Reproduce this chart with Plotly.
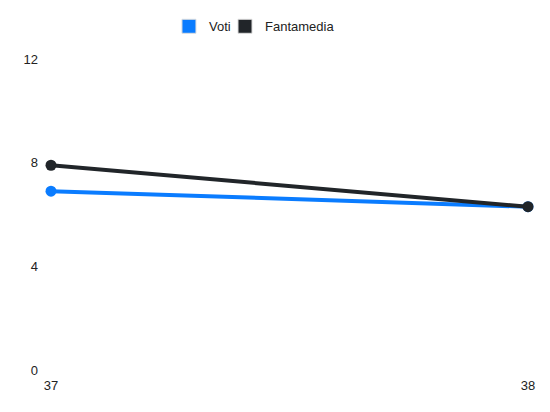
import plotly.graph_objects as go

giornate = [37, 38]
voti = [6.9, 6.3]
fantamedia = [7.9, 6.3]
y_ticks = [0, 4, 8, 12]

BLUE = "#0a7cff"
DARK = "#212529"

fig = go.Figure()

# main lines (legend drawn with square dummies below)
fig.add_trace(go.Scatter(
    x=giornate, y=voti, mode="lines+markers", name="Voti",
    line=dict(color=BLUE, width=4), marker=dict(color=BLUE, size=11),
    showlegend=False, cliponaxis=False
))
fig.add_trace(go.Scatter(
    x=giornate, y=fantamedia, mode="lines+markers", name="Fantamedia",
    line=dict(color=DARK, width=4), marker=dict(color=DARK, size=11),
    showlegend=False, cliponaxis=False
))

# one legend per entry so the spacing can be set by hand
for name, color, leg in [("Voti", BLUE, "legend"), ("Fantamedia", DARK, "legend2")]:
    fig.add_trace(go.Scatter(
        x=[None], y=[None], mode="markers", name=name, legend=leg,
        marker=dict(color=color, symbol="square", size=14,
                    line=dict(color="#dddddd", width=1))
    ))

fig.update_xaxes(
    range=[giornate[0], giornate[-1]], tickvals=giornate,
    showgrid=False, zeroline=False, showline=False, ticks="",
    ticklabelstandoff=6
)
fig.update_yaxes(
    range=[0, 12], tickvals=y_ticks,
    showgrid=False, zeroline=False, showline=False, ticks="",
    ticklabelstandoff=12
)

leg_style = dict(orientation="h", xanchor="left", y=1.105, yanchor="middle",
                 itemsizing="trace", font=dict(size=13), bgcolor="rgba(0,0,0,0)")

fig.update_layout(
    width=550, height=412,
    margin=dict(l=43, r=30, t=51, b=50, autoexpand=False),
    plot_bgcolor="white", paper_bgcolor="white",
    font=dict(family="Liberation Sans, Arial, sans-serif", size=13, color="#222222"),
    legend=dict(x=0.2473, **leg_style),
    legend2=dict(x=0.3648, **leg_style),
)

fig.write_html("out.html")
